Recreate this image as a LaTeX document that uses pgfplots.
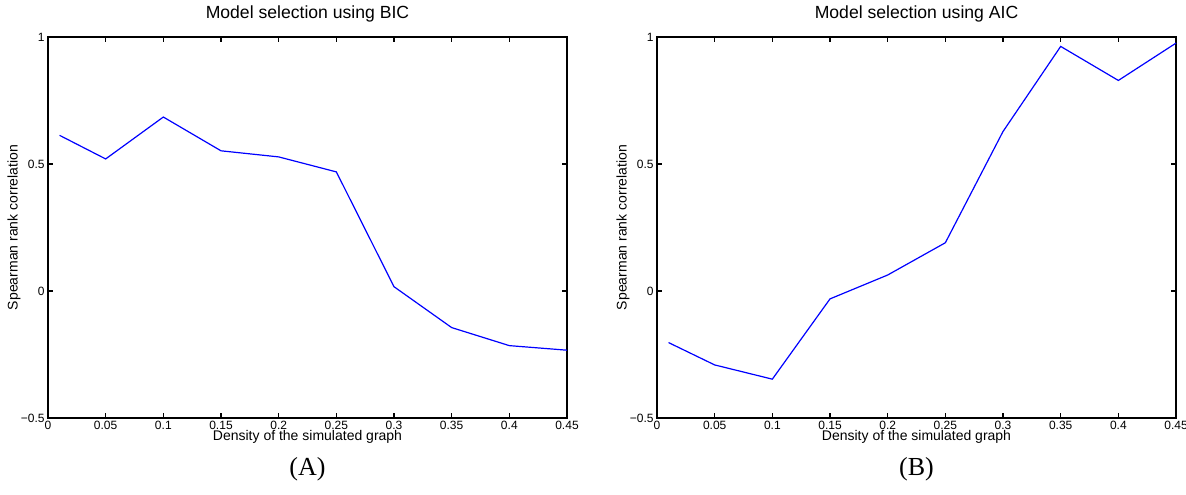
\documentclass[border=0pt]{standalone}
\usepackage{fontspec}
\setmainfont{Liberation Sans}
\newfontfamily\timesfont{Liberation Serif}
\usepackage{pgfplots}
\pgfplotsset{compat=1.18}

% MATLAB-like axis: boxed, ticks inside on all four sides
\pgfplotsset{
  every axis title shift=0pt,
  matlabaxis/.style={
    scale only axis,
    width=259.5pt, height=190.5pt,
    xmin=0, xmax=0.45, ymin=-0.5, ymax=1,
    xtick={0,0.05,0.1,0.15,0.2,0.25,0.3,0.35,0.4,0.45},
    xticklabels={0,0.05,0.1,0.15,0.2,0.25,0.3,0.35,0.4,0.45},
    ytick={-0.5,0,0.5,1},
    yticklabels={−0.5,0,0.5,1},
    tick align=inside,
    major tick length=2.4pt,
    axis line style={line width=0.8pt},
    every tick/.style={line width=0.6pt, black},
    tick label style={font=\fontsize{6}{7}\selectfont},
    xticklabel style={inner sep=1.5pt},
    yticklabel style={inner sep=1.5pt},
    label style={font=\fontsize{7}{8}\selectfont},
    xlabel style={at={(axis description cs:0.5,-0.05)}, anchor=center},
    ylabel style={at={(axis description cs:-0.0655,0.5)}, anchor=center},
    title style={at={(axis description cs:0.5,1.06)}, anchor=center,
                 font=\fontsize{8.8}{10}\selectfont},
    xlabel={Density of the simulated graph},
    ylabel={Spearman rank correlation},
    clip=false,
  },
  curve/.style={color={rgb,255:red,0;green,0;blue,255}, line width=0.6pt, mark=none},
}

\begin{document}
\begin{tikzpicture}
\path[use as bounding box] (0,0) rectangle (593pt,-247pt);

\begin{axis}[matlabaxis, at={(24pt,-209pt)}, anchor=south west,
             title={Model selection using BIC}]
  \addplot[curve] coordinates {
    (0.01,0.613) (0.05,0.520) (0.10,0.685) (0.15,0.552) (0.20,0.528)
    (0.25,0.469) (0.30,0.017) (0.35,-0.144) (0.40,-0.215) (0.45,-0.233)
  };
  \node[font=\timesfont\fontsize{13}{15}\selectfont]
    at (axis description cs:0.5,-0.135) {(A)};
\end{axis}

\begin{axis}[matlabaxis, at={(328.5pt,-209pt)}, anchor=south west,
             title={Model selection using AIC}]
  \addplot[curve] coordinates {
    (0.01,-0.203) (0.05,-0.291) (0.10,-0.347) (0.15,-0.031) (0.20,0.063)
    (0.25,0.190) (0.30,0.628) (0.35,0.963) (0.40,0.829) (0.45,0.976)
  };
  \node[font=\timesfont\fontsize{13}{15}\selectfont]
    at (axis description cs:0.5,-0.135) {(B)};
\end{axis}
\end{tikzpicture}
\end{document}
